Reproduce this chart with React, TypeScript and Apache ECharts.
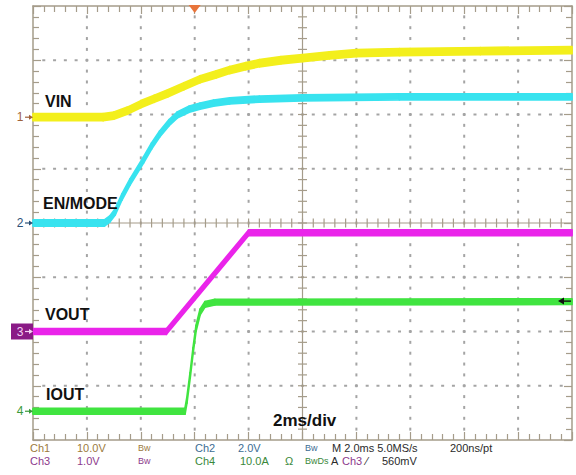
import React, { useEffect, useRef } from "react";
import * as echarts from "echarts";

// ---- axes (time in ms relative to trigger, vertical in divisions) ----
const TIME_MIN = -6;
const TIME_MAX = 14;
const TIME_DIV = 2; // 2 ms/div
const TIME_CENTER = 4;
const DIVS_Y = 4;

// ---- channel settings ----
const channelNames = ["VIN", "EN/MODE", "VOUT", "IOUT"];
const channelOffsets = [1.95, 0, -2.0, -3.47]; // marker position, divisions
const channelScales = [10, 2, 1, 10]; // units per division
const channelColors = ["#f3ef1c", "#38e3ef", "#ea24ea", "#40e440"];
const TRIGGER_LEVEL_V = 0.56; // Ch3 rising edge, 560 mV

// ---- traces ----
const vinTime = [-6, -3.4, -3.0, -2.5, -2.0, -1.5, -1.0, -0.4, 0.2, 0.8, 1.3, 1.9, 2.4, 3.2, 4.0, 5.0, 6.0, 7.6, 10.6, 14];
const vinVolts = [0, 0, 0.3, 1.2, 2.4, 3.4, 4.4, 5.7, 7.0, 7.9, 8.7, 9.4, 9.95, 10.5, 10.9, 11.4, 11.8, 12.0, 12.2, 12.35];

const enTime = [-6, -3.35, -3.15, -2.95, -2.7, -2.4, -1.9, -1.6, -1.3, -0.95, -0.65, -0.2, 0.2, 0.7, 1.3, 2.4, 4.0, 7.6, 14];
const enVolts = [0, 0, 0.15, 0.41, 0.96, 1.51, 2.32, 2.84, 3.28, 3.7, 3.98, 4.2, 4.31, 4.42, 4.5, 4.57, 4.61, 4.65, 4.65];

const voutTime = [-6, -1.05, 2.0, 14];
const voutVolts = [0, 0, 1.82, 1.82];

const ioutTime = [-6, -0.36, -0.29, -0.17, -0.06, 0.05, 0.2, 0.38, 0.75, 14];
const ioutAmps = [0, 0, 2.0, 6.6, 11.2, 15.3, 18.3, 19.7, 20.1, 20.2];

const traceTimes = [vinTime, enTime, voutTime, ioutTime];
const traceValues = [vinVolts, enVolts, voutVolts, ioutAmps];

// ---- status lines ----
const statusRow1 = [
  { text: "Ch1", color: "#9b7a3c" },
  { text: "10.0V", color: "#9b7a3c" },
  { text: "Bw", color: "#9b7a3c", small: true },
  { text: "Ch2", color: "#3c6d93" },
  { text: "2.0V", color: "#3c6d93" },
  { text: "Bw", color: "#3c6d93", small: true },
  { text: "M 2.0ms 5.0MS/s", color: "#2a2a2a" },
  { text: "200ns/pt", color: "#2a2a2a" },
];
const statusRow2 = [
  { text: "Ch3", color: "#8c3a8c" },
  { text: "1.0V", color: "#8c3a8c" },
  { text: "Bw", color: "#8c3a8c", small: true },
  { text: "Ch4", color: "#3a883a" },
  { text: "10.0A", color: "#3a883a" },
  { text: "Ω", color: "#3a883a" },
  { text: "BwDs", color: "#3a883a", small: true },
  { text: "A", color: "#2a2a2a" },
  { text: "Ch3", color: "#8c3a8c" },
  { text: "⁄", color: "#2a2a2a" },
  { text: "560mV", color: "#2a2a2a" },
];
const statusX1 = [30, 77, 138, 195, 238, 305, 332, 450];
const statusX2 = [30, 77, 138, 195, 240, 285, 305, 331, 342, 366, 382];

// ---- layout ----
const W = 576;
const H = 475;
const GRID = { left: 33, top: 6, width: 539, height: 434 };
const FRAME = "#a59c8a";
const DOT = "#a4a4a4";
const LABEL_FONT = 'bold 16px "Liberation Sans", Arial, sans-serif';
const SMALL_FONT = '11px "Liberation Sans", Arial, sans-serif';

const xPix = (t: number) => GRID.left + ((t - TIME_MIN) / (TIME_MAX - TIME_MIN)) * GRID.width;
const yPix = (d: number) => GRID.top + ((DIVS_Y - d) / (2 * DIVS_Y)) * GRID.height;

function bandSeries(idx: number, thickPx: number) {
  const times = traceTimes[idx];
  const vals = traceValues[idx];
  const pos = channelOffsets[idx];
  const scale = channelScales[idx];
  const color = channelColors[idx];
  const data: number[][] = [];
  for (let i = 0; i < times.length - 1; i++) {
    data.push([times[i], pos + vals[i] / scale, times[i + 1], pos + vals[i + 1] / scale]);
  }
  return {
    type: "custom",
    name: channelNames[idx],
    coordinateSystem: "cartesian2d",
    xAxisIndex: 0,
    yAxisIndex: 0,
    encode: { x: [0, 2], y: [1, 3] },
    silent: true,
    z: 5 + idx,
    data,
    renderItem: (_p: any, api: any) => {
      const a = api.coord([api.value(0), api.value(1)]);
      const b = api.coord([api.value(2), api.value(3)]);
      const h = thickPx / 2;
      return {
        type: "polygon",
        shape: {
          points: [
            [a[0], a[1] - h],
            [b[0], b[1] - h],
            [b[0], b[1] + h],
            [a[0], a[1] + h],
          ],
        },
        style: { fill: color, stroke: color, lineWidth: 1.8, lineJoin: "round" },
      };
    },
  };
}

// graticule: dotted division lines, centre cross with sub-division ticks
const graticuleSeries = {
  type: "custom",
  coordinateSystem: "cartesian2d",
  xAxisIndex: 0,
  yAxisIndex: 0,
  silent: true,
  z: 2,
  data: [[TIME_CENTER, 0]],
  renderItem: (_p: any, api: any) => {
    const c = api.coord([TIME_CENTER, 0]);
    const l = api.coord([TIME_MIN, 0])[0];
    const r = api.coord([TIME_MAX, 0])[0];
    const t = api.coord([TIME_CENTER, DIVS_Y])[1];
    const b = api.coord([TIME_CENTER, -DIVS_Y])[1];
    const st = { stroke: FRAME, lineWidth: 1.2 };
    const dst = { stroke: DOT, lineWidth: 2 };
    const children: any[] = [];
    const nDivX = (TIME_MAX - TIME_MIN) / TIME_DIV;
    const nDivY = DIVS_Y * 2;
    // dotted vertical division lines
    for (let i = 1; i < nDivX; i++) {
      const tv = TIME_MIN + i * TIME_DIV;
      if (tv === TIME_CENTER) continue;
      for (let j = 1; j < nDivY * 5; j++) {
        const p = api.coord([tv, -DIVS_Y + j / 5]);
        children.push({ type: "line", shape: { x1: p[0], y1: p[1] - 1.5, x2: p[0], y2: p[1] + 1.5 }, style: dst });
      }
    }
    // dotted horizontal division lines
    for (let j = 1; j < nDivY; j++) {
      const dv = -DIVS_Y + j;
      if (dv === 0) continue;
      for (let i = 1; i < nDivX * 5; i++) {
        const p = api.coord([TIME_MIN + (i * TIME_DIV) / 5, dv]);
        children.push({ type: "line", shape: { x1: p[0] - 1.5, y1: p[1], x2: p[0] + 1.5, y2: p[1] }, style: dst });
      }
    }
    // centre cross
    children.push({ type: "line", shape: { x1: l, y1: c[1], x2: r, y2: c[1] }, style: st });
    children.push({ type: "line", shape: { x1: c[0], y1: t, x2: c[0], y2: b }, style: st });
    for (let i = 1; i < nDivX * 5; i++) {
      const x = api.coord([TIME_MIN + (i * TIME_DIV) / 5, 0])[0];
      children.push({ type: "line", shape: { x1: x, y1: c[1] - 4.5, x2: x, y2: c[1] + 4.5 }, style: st });
    }
    for (let j = 1; j < nDivY * 5; j++) {
      const y = api.coord([TIME_CENTER, -DIVS_Y + j / 5])[1];
      children.push({ type: "line", shape: { x1: c[0] - 4.5, y1: y, x2: c[0] + 4.5, y2: y }, style: st });
    }
    return { type: "group", children };
  },
};

function axisCommon(extra: any) {
  return {
    type: "value",
    axisLine: { show: true, onZero: false, lineStyle: { color: FRAME, width: 1.5 } },
    axisTick: { show: true, inside: true, length: 8, lineStyle: { color: FRAME, width: 1.2 } },
    minorTick: { show: true, splitNumber: 5, length: 6, lineStyle: { color: FRAME, width: 1.2 } },
    axisLabel: { show: false },
    splitLine: { show: false },
    ...extra,
  };
}

function buildGraphics() {
  const els: any[] = [];
  const txt = (x: number, y: number, text: string, fill: string, font: string, align = "left") => ({
    type: "text",
    x,
    y,
    silent: true,
    z: 50,
    style: { text, fill, font, textAlign: align, textVerticalAlign: "middle", align, verticalAlign: "middle" },
  });
  // trace labels
  els.push(txt(45, 101, channelNames[0], "#111", LABEL_FONT));
  els.push(txt(43, 203, channelNames[1], "#111", LABEL_FONT));
  els.push(txt(45, 314, channelNames[2], "#111", LABEL_FONT));
  els.push(txt(46, 394, channelNames[3], "#111", LABEL_FONT));
  els.push(txt(273, 420, "2ms/div", "#111", 'bold 17px "Liberation Sans", Arial, sans-serif'));

  // channel markers on the left
  const markerColors = ["#a0623a", "#2b5077", "#f4d0f4", "#3a9a3a"];
  for (let i = 0; i < 4; i++) {
    const y = yPix(channelOffsets[i]);
    if (i === 2) {
      els.push({ type: "rect", shape: { x: 11, y: y - 8, width: 22, height: 16 }, style: { fill: "#8a1a86" }, z: 40, silent: true });
    }
    els.push(txt(20, y, String(i + 1), markerColors[i], '12px "Liberation Sans", Arial, sans-serif', "center"));
    els.push({ type: "line", shape: { x1: 25, y1: y, x2: 30, y2: y }, style: { stroke: markerColors[i], lineWidth: 1.2 }, z: 50, silent: true });
    els.push({ type: "polygon", shape: { points: [[29, y - 2.5], [33, y], [29, y + 2.5]] }, style: { fill: markerColors[i] }, z: 50, silent: true });
  }

  // trigger position marker (top)
  const tx = xPix(0);
  els.push({ type: "polygon", shape: { points: [[tx - 6, GRID.top - 1], [tx + 6, GRID.top - 1], [tx, GRID.top + 7]] }, style: { fill: "#e8743a" }, z: 50, silent: true });

  // trigger level marker (right)
  const ty = yPix(channelOffsets[2] + TRIGGER_LEVEL_V / channelScales[2]);
  const rx = GRID.left + GRID.width;
  els.push({ type: "line", shape: { x1: rx - 10, y1: ty, x2: rx - 1, y2: ty }, style: { stroke: "#111", lineWidth: 1.4 }, z: 50, silent: true });
  els.push({ type: "polygon", shape: { points: [[rx - 8, ty - 3.5], [rx - 14, ty], [rx - 8, ty + 3.5]] }, style: { fill: "#111" }, z: 50, silent: true });

  // status lines
  statusRow1.forEach((s, i) => {
    els.push(txt(statusX1[i], 448, s.text, s.color, s.small ? '9px "Liberation Sans", Arial, sans-serif' : SMALL_FONT));
  });
  statusRow2.forEach((s, i) => {
    els.push(txt(statusX2[i], 461, s.text, s.color, s.small ? '9px "Liberation Sans", Arial, sans-serif' : SMALL_FONT));
  });
  return els;
}

export default function App() {
  const ref = useRef<HTMLDivElement>(null);
  useEffect(() => {
    if (!ref.current) return;
    const chart = echarts.init(ref.current, undefined, { renderer: "svg" });
    const option: any = {
      animation: false,
      backgroundColor: "#ffffff",
      grid: { left: GRID.left, top: GRID.top, width: GRID.width, height: GRID.height },
      xAxis: [
        axisCommon({ position: "bottom", min: TIME_MIN, max: TIME_MAX, interval: TIME_DIV }),
        axisCommon({ position: "top", min: TIME_MIN, max: TIME_MAX, interval: TIME_DIV }),
      ],
      yAxis: [
        axisCommon({ position: "left", min: -DIVS_Y, max: DIVS_Y, interval: 1 }),
        axisCommon({ position: "right", min: -DIVS_Y, max: DIVS_Y, interval: 1 }),
      ],
      series: [
        graticuleSeries,
        bandSeries(0, 7),
        bandSeries(1, 6),
        bandSeries(2, 5.5),
        bandSeries(3, 5.5),
      ],
      graphic: { elements: buildGraphics() },
    };
    chart.setOption(option);
    return () => chart.dispose();
  }, []);
  return (
    <div
      ref={ref}
      style={{ position: "absolute", left: 0, top: 0, width: W, height: H, background: "#fff" }}
    />
  );
}
